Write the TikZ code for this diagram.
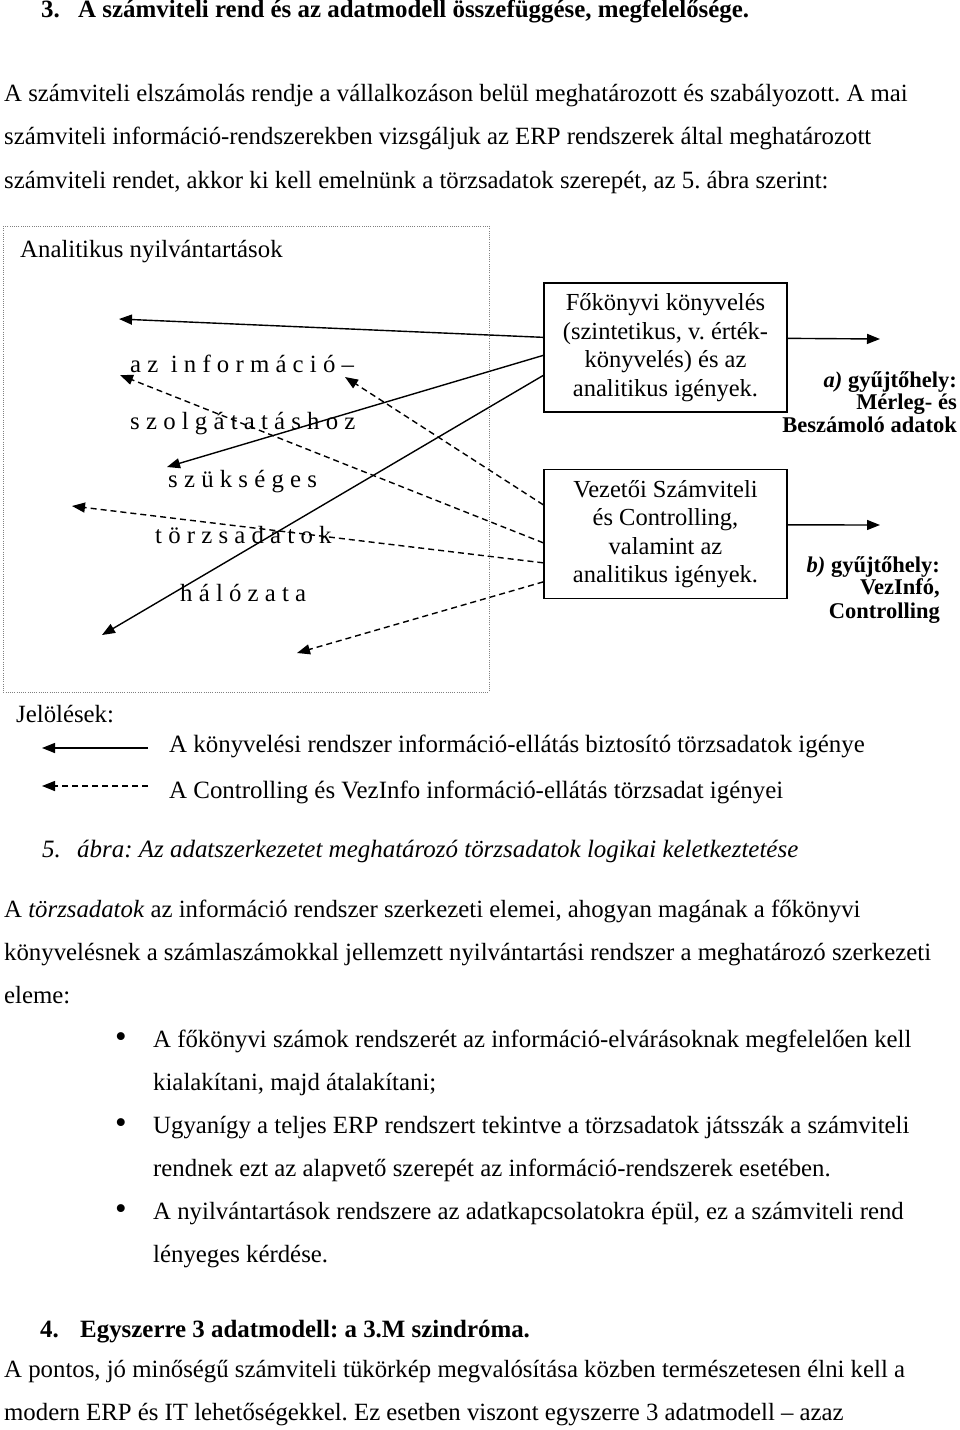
\documentclass[tikz,border=0pt]{standalone}
\usepackage{fontspec}
\setmainfont{Liberation Serif}
\frenchspacing
\usetikzlibrary{arrows.meta,calc}
\tikzset{
  txt/.style={anchor=base west, inner sep=0pt, font=\fontsize{24.8}{30}\selectfont\frenchspacing},
  hd/.style={anchor=base west, inner sep=0pt, font=\fontsize{24.9}{30}\selectfont\bfseries},
  captxt/.style={anchor=base west, inner sep=0pt, font=\fontsize{24.95}{30}\selectfont\itshape},
  dg/.style={anchor=base west, inner sep=0pt, font=\fontsize{24.8}{29}\selectfont},
  lgt/.style={anchor=base west, inner sep=0pt, font=\fontsize{24.9}{29}\selectfont},
  bul/.style={anchor=center, inner sep=0pt, font=\fontsize{33}{33}\selectfont},
  lbl/.style={anchor=base east, inner sep=0pt, font=\fontsize{22.5}{23}\selectfont\bfseries},
  boxn/.style={draw, line width=1.3pt, minimum width=243pt, minimum height=129pt, align=center, inner sep=0pt, font=\fontsize{24.5}{28.5}\selectfont},
  sol/.style={line width=1.4pt, -{Triangle[length=13pt,width=10pt]}},
  dsh/.style={line width=1.4pt, dash pattern=on 6pt off 4pt, -{Triangle[length=13pt,width=10pt]}},
  frame/.style={draw=gray, line width=0.9pt, dash pattern=on 1pt off 1.2pt},
}
\begin{document}
\begin{tikzpicture}[x=1pt,y=-1pt]
\useasboundingbox[fill=white] (0,0) rectangle (960,1430);

% heading 3
\node[hd] (h3n) at (41,17) {3.};
\node[hd] (h3) at (78,17) {A számviteli rend és az adatmodell összefüggése, megfelelősége.};
% paragraph 1
\node[txt] (p1a) at (4,101) {A számviteli elszámolás rendje a vállalkozáson belül meghatározott és szabályozott. A mai};
\node[txt] (p1b) at (4,144) {számviteli információ-rendszerekben vizsgáljuk az ERP rendszerek által meghatározott};
\node[txt] (p1c) at (4,188) {számviteli rendet, akkor ki kell emelnünk a törzsadatok szerepét, az 5. ábra szerint:};

% diagram frame
\draw[frame] (3,226) rectangle (489,692);
\node[dg] (anal) at (20,257) {Analitikus nyilvántartások};

\node[dg] (w1) at (130,372) {a z\ \ i n f o r m á c i ó –};
\node[dg] (w2) at (130,429) {s z o l g á t a t á s h o z};
\node[dg] (w3) at (168,487) {s z ü k s é g e s};
\node[dg] (w4) at (155,543) {t ö r z s a d a t o k};
\node[dg] (w5) at (180,601) {h á l ó z a t a};

% boxes
\node[boxn] (fok) at (665.5,347.5) {Főkönyvi könyvelés\\(szintetikus, v. érték-\\könyvelés) és az\\analitikus igények.};
\node[boxn] (vez) at (665.5,534) {Vezetői Számviteli\\és Controlling,\\valamint az\\analitikus igények.};

% arrow tips
\coordinate (s1) at (119,319);
\coordinate (s2) at (167,467);
\coordinate (s3) at (102,635);
\coordinate (d1) at (345,377);
\coordinate (d2) at (120,375);
\coordinate (d3) at (72,506);
\coordinate (d4) at (297,653);
\coordinate (ra) at (880,339);
\coordinate (rb) at (880,525);

\draw[sol] ($(fok.north west)+(0,55)$) -- (s1);
\draw[sol] ($(fok.north west)+(0,73)$) -- (s2);
\draw[sol] ($(fok.north west)+(0,93)$) -- (s3);
\draw[dsh] ($(vez.north west)+(0,36)$) -- (d1);
\draw[dsh] ($(vez.north west)+(0,74)$) -- (d2);
\draw[dsh] ($(vez.north west)+(0,94)$) -- (d3);
\draw[dsh] ($(vez.north west)+(0,113)$) -- (d4);
\draw[sol] ($(fok.north east)+(0,56)$) -- (ra);
\draw[sol] ($(vez.north east)+(0,56)$) -- (rb);

% right labels
\node[lbl] (la1) at (957,387) {\textit{a)} gyűjtőhely:};
\node[lbl] (la2) at (957,409) {Mérleg- és};
\node[lbl] (la3) at (957,432) {Beszámoló adatok};
\node[lbl] (lb1) at (940,572) {\textit{b)} gyűjtőhely:};
\node[lbl] (lb2) at (940,594) {VezInfó,};
\node[lbl] (lb3) at (940,618) {Controlling};

% legend
\node[dg] (jel) at (16,722) {Jelölések:};
\coordinate (lg1a) at (148,748);
\coordinate (lg1b) at (42,748);
\coordinate (lg2a) at (148,786);
\coordinate (lg2b) at (42,786);
\draw[sol] (lg1a) -- (lg1b);
\draw[dsh] (lg2a) -- (lg2b);
\node[lgt] (lt1) at (169,752) {A könyvelési rendszer információ-ellátás biztosító törzsadatok igénye};
\node[lgt] (lt2) at (169,798) {A Controlling és VezInfo információ-ellátás törzsadat igényei};

% caption
\node[captxt] (c5) at (42,857) {5.};
\node[captxt] (ct) at (77,857) {ábra: Az adatszerkezetet meghatározó törzsadatok logikai keletkeztetése};

% paragraph 2
\node[txt] (p2a) at (4,917) {A \textit{törzsadatok} az információ rendszer szerkezeti elemei, ahogyan magának a főkönyvi};
\node[txt] (p2b) at (4,960) {könyvelésnek a számlaszámokkal jellemzett nyilvántartási rendszer a meghatározó szerkezeti};
\node[txt] (p2c) at (4,1003) {eleme:};

% bullets
\node[bul] (b1) at (121,1040) {\textbullet};
\node[txt] (b1a) at (153,1047) {A főkönyvi számok rendszerét az információ-elvárásoknak megfelelően kell};
\node[txt] (b1b) at (153,1090) {kialakítani, majd átalakítani;};
\node[bul] (b2) at (121,1126) {\textbullet};
\node[txt] (b2a) at (153,1133) {Ugyanígy a teljes ERP rendszert tekintve a törzsadatok játsszák a számviteli};
\node[txt] (b2b) at (153,1176) {rendnek ezt az alapvető szerepét az információ-rendszerek esetében.};
\node[bul] (b3) at (121,1212) {\textbullet};
\node[txt] (b3a) at (153,1219) {A nyilvántartások rendszere az adatkapcsolatokra épül, ez a számviteli rend};
\node[txt] (b3b) at (153,1262) {lényeges kérdése.};

% heading 4
\node[hd] (h4n) at (40,1337) {4.};
\node[hd] (h4) at (80,1337) {Egyszerre 3 adatmodell: a 3.M szindróma.};
\node[txt] (p3a) at (4,1377) {A pontos, jó minőségű számviteli tükörkép megvalósítása közben természetesen élni kell a};
\node[txt] (p3b) at (4,1420) {modern ERP és IT lehetőségekkel. Ez esetben viszont egyszerre 3 adatmodell – azaz};
\end{tikzpicture}
\end{document}
